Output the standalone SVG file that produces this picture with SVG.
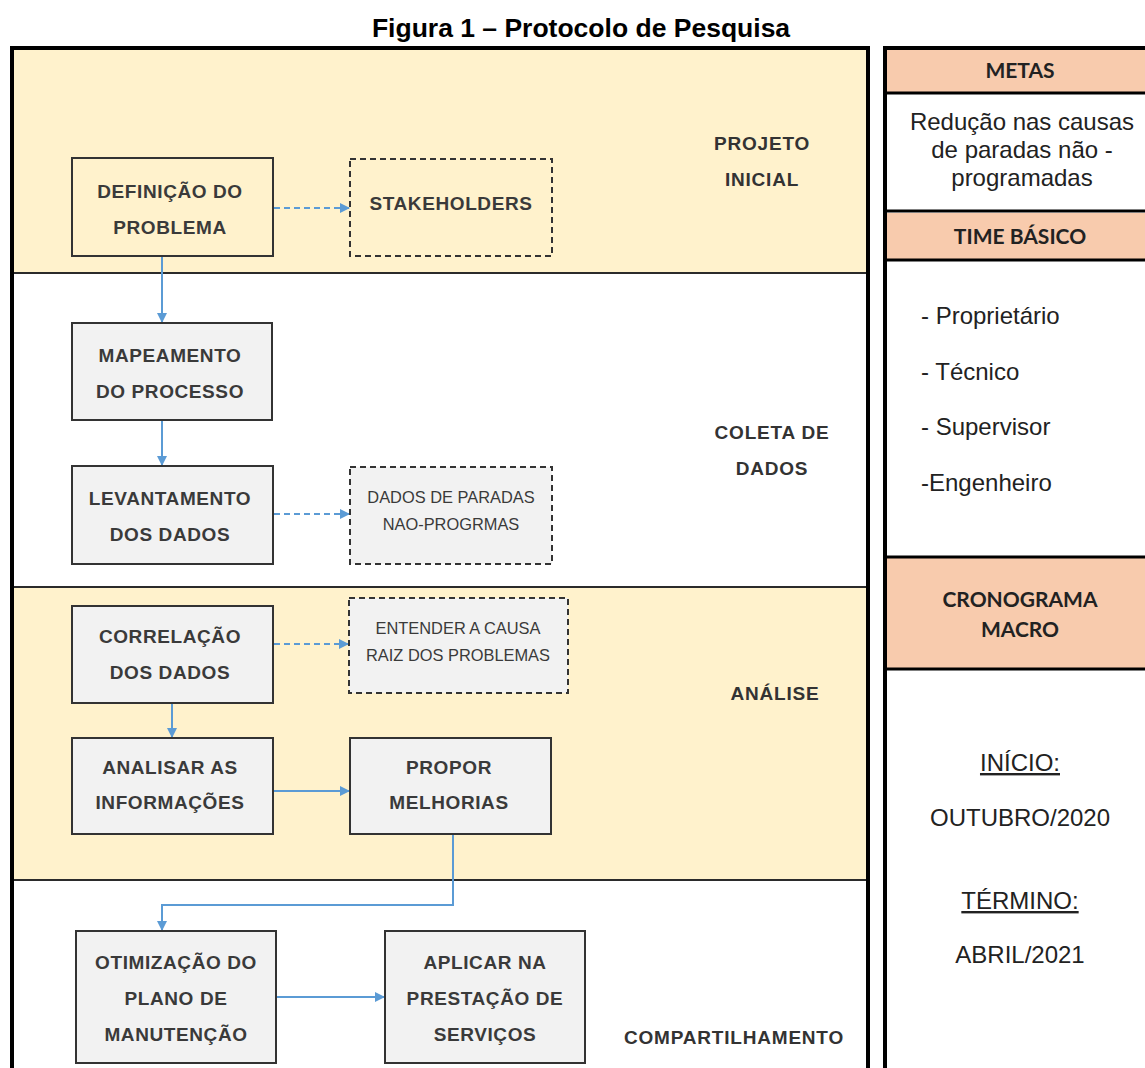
<svg xmlns="http://www.w3.org/2000/svg" width="1145" height="1068" viewBox="0 0 1145 1068">
  <defs>
    <style>
      .title { font-family: "Liberation Sans", Arial, sans-serif; font-weight: bold; font-size: 26.5px; fill: #000; }
      .band-y { fill: #FFF2CC; }
      .band-w { fill: #FFFFFF; }
      .divider { stroke: #2b2b2b; stroke-width: 2; }
      .box { fill: #F2F2F2; stroke: #333; stroke-width: 2; }
      .box-y { fill: #FFF2CC; stroke: #333; stroke-width: 2; }
      .dash { fill: #F2F2F2; stroke: #333; stroke-width: 2; stroke-dasharray: 6 4; }
      .dash-y { fill: #FFF2CC; stroke: #333; stroke-width: 2; stroke-dasharray: 6 4; }
      .bt { font-family: "Liberation Sans", Arial, sans-serif; font-weight: bold; font-size: 19px; letter-spacing: 0.6px; fill: #3a3a3a; text-anchor: middle; }
      .st { font-family: "Liberation Sans", Arial, sans-serif; font-size: 16.4px; fill: #3a3a3a; text-anchor: middle; }
      .phase { font-family: "Liberation Sans", Arial, sans-serif; font-weight: bold; font-size: 19px; letter-spacing: 0.8px; fill: #333; text-anchor: middle; }
      .link { fill: none; stroke: #5B9BD5; stroke-width: 2; }
      .link-d { fill: none; stroke: #5B9BD5; stroke-width: 2; stroke-dasharray: 6 4; }
      .hdr { fill: #F8CBAD; }
      .ht { font-family: Lato, "Open Sans", sans-serif; font-weight: bold; font-size: 21px; fill: #222; text-anchor: middle; }
      .rt { font-family: "Liberation Sans", Arial, sans-serif; font-size: 24px; fill: #222; }
      .rc { text-anchor: middle; }
      .ul { text-decoration: underline; }
    </style>
    <marker id="arrow" viewBox="0 0 10 10" refX="9" refY="5" markerWidth="5" markerHeight="5" orient="auto" markerUnits="strokeWidth">
      <path d="M0,0 L10,5 L0,10 z" fill="#5B9BD5"/>
    </marker>
  </defs>

  <rect x="0" y="0" width="1145" height="1068" fill="#FFFFFF"/>

  <text class="title" x="581" y="37" text-anchor="middle">Figura 1 – Protocolo de Pesquisa</text>

  <!-- Left panel: phase bands -->
  <g id="bands">
    <rect class="band-y" x="12" y="48" width="856" height="225"/>
    <rect class="band-w" x="12" y="273" width="856" height="314"/>
    <rect class="band-y" x="12" y="587" width="856" height="293"/>
    <rect class="band-w" x="12" y="880" width="856" height="200"/>
    <line class="divider" x1="12" y1="273" x2="868" y2="273"/>
    <line class="divider" x1="12" y1="587" x2="868" y2="587"/>
    <line class="divider" x1="12" y1="880" x2="868" y2="880"/>
    <path d="M12,1080 V48 H868 V1080" fill="none" stroke="#000" stroke-width="4"/>
  </g>

  <!-- Phase labels -->
  <g id="phase-projeto"><text class="phase" x="762" y="150">PROJETO</text><text class="phase" x="762" y="186">INICIAL</text></g>
  <g id="phase-coleta"><text class="phase" x="772" y="439">COLETA DE</text><text class="phase" x="772" y="475">DADOS</text></g>
  <g id="phase-analise"><text class="phase" x="775" y="700">ANÁLISE</text></g>
  <g id="phase-compart"><text class="phase" x="734" y="1044">COMPARTILHAMENTO</text></g>

  <!-- Connectors -->
  <g id="connectors">
    <line class="link-d" x1="274" y1="208" x2="349" y2="208" marker-end="url(#arrow)"/>
    <line class="link" x1="162" y1="257" x2="162" y2="322" marker-end="url(#arrow)"/>
    <line class="link" x1="162" y1="421" x2="162" y2="465" marker-end="url(#arrow)"/>
    <line class="link-d" x1="274" y1="514" x2="349" y2="514" marker-end="url(#arrow)"/>
    <line class="link-d" x1="274" y1="644" x2="348" y2="644" marker-end="url(#arrow)"/>
    <line class="link" x1="172" y1="704" x2="172" y2="737" marker-end="url(#arrow)"/>
    <line class="link" x1="274" y1="791" x2="349" y2="791" marker-end="url(#arrow)"/>
    <path class="link" d="M453,835 V905 H162 V930" marker-end="url(#arrow)"/>
    <line class="link" x1="277" y1="997" x2="384" y2="997" marker-end="url(#arrow)"/>
  </g>

  <!-- Nodes -->
  <g id="n-definicao">
    <rect class="box-y" x="72" y="158" width="201" height="98"/>
    <text class="bt" x="170" y="198">DEFINIÇÃO DO</text>
    <text class="bt" x="170" y="234">PROBLEMA</text>
  </g>
  <g id="n-stakeholders">
    <rect class="dash-y" x="350" y="159" width="202" height="97"/>
    <text class="bt" x="451" y="210">STAKEHOLDERS</text>
  </g>
  <g id="n-mapeamento">
    <rect class="box" x="72" y="323" width="200" height="97"/>
    <text class="bt" x="170" y="362">MAPEAMENTO</text>
    <text class="bt" x="170" y="398">DO PROCESSO</text>
  </g>
  <g id="n-levantamento">
    <rect class="box" x="72" y="466" width="201" height="98"/>
    <text class="bt" x="170" y="505">LEVANTAMENTO</text>
    <text class="bt" x="170" y="541">DOS DADOS</text>
  </g>
  <g id="n-dados-paradas">
    <rect class="dash" x="350" y="467" width="202" height="97"/>
    <text class="st" x="451" y="503">DADOS DE PARADAS</text>
    <text class="st" x="451" y="530">NAO-PROGRMAS</text>
  </g>
  <g id="n-correlacao">
    <rect class="box" x="72" y="606" width="201" height="97"/>
    <text class="bt" x="170" y="643">CORRELAÇÃO</text>
    <text class="bt" x="170" y="679">DOS DADOS</text>
  </g>
  <g id="n-entender">
    <rect class="dash" x="349" y="598" width="219" height="95"/>
    <text class="st" x="458" y="634">ENTENDER A CAUSA</text>
    <text class="st" x="458" y="661">RAIZ DOS PROBLEMAS</text>
  </g>
  <g id="n-analisar">
    <rect class="box" x="72" y="738" width="201" height="96"/>
    <text class="bt" x="170" y="774">ANALISAR AS</text>
    <text class="bt" x="170" y="809">INFORMAÇÕES</text>
  </g>
  <g id="n-propor">
    <rect class="box" x="350" y="738" width="201" height="96"/>
    <text class="bt" x="449" y="774">PROPOR</text>
    <text class="bt" x="449" y="809">MELHORIAS</text>
  </g>
  <g id="n-otimizacao">
    <rect class="box" x="76" y="931" width="200" height="132"/>
    <text class="bt" x="176" y="969">OTIMIZAÇÃO DO</text>
    <text class="bt" x="176" y="1005">PLANO DE</text>
    <text class="bt" x="176" y="1041">MANUTENÇÃO</text>
  </g>
  <g id="n-aplicar">
    <rect class="box" x="385" y="931" width="200" height="132"/>
    <text class="bt" x="485" y="969">APLICAR NA</text>
    <text class="bt" x="485" y="1005">PRESTAÇÃO DE</text>
    <text class="bt" x="485" y="1041">SERVIÇOS</text>
  </g>

  <!-- Right panel: goals, team and schedule -->
  <g id="side-panel">
    <rect x="885" y="48" width="270" height="1040" fill="#FFFFFF" stroke="#000" stroke-width="4"/>
    <rect class="hdr" x="887" y="50" width="260" height="43"/>
    <rect class="hdr" x="887" y="213" width="260" height="46"/>
    <rect class="hdr" x="887" y="558" width="260" height="110"/>
    <line x1="885" y1="93" x2="1145" y2="93" stroke="#000" stroke-width="3"/>
    <line x1="885" y1="211" x2="1145" y2="211" stroke="#000" stroke-width="3"/>
    <line x1="885" y1="260" x2="1145" y2="260" stroke="#000" stroke-width="3"/>
    <line x1="885" y1="557" x2="1145" y2="557" stroke="#000" stroke-width="3"/>
    <line x1="885" y1="669" x2="1145" y2="669" stroke="#000" stroke-width="3"/>
  </g>
  <g id="metas">
    <text class="ht" x="1020" y="78">METAS</text>
    <text class="rt rc" x="1022" y="130">Redução nas causas</text>
    <text class="rt rc" x="1022" y="158">de paradas não -</text>
    <text class="rt rc" x="1022" y="186">programadas</text>
  </g>
  <g id="time-basico">
    <text class="ht" x="1020" y="244">TIME BÁSICO</text>
    <text class="rt" x="921" y="324">- Proprietário</text>
    <text class="rt" x="921" y="380">- Técnico</text>
    <text class="rt" x="921" y="435">- Supervisor</text>
    <text class="rt" x="921" y="491">-Engenheiro</text>
  </g>
  <g id="cronograma">
    <text class="ht" x="1020" y="607">CRONOGRAMA</text>
    <text class="ht" x="1020" y="637">MACRO</text>
    <text class="rt rc ul" x="1020" y="771">INÍCIO:</text>
    <text class="rt rc" x="1020" y="826">OUTUBRO/2020</text>
    <text class="rt rc ul" x="1020" y="909">TÉRMINO:</text>
    <text class="rt rc" x="1020" y="963">ABRIL/2021</text>
  </g>
</svg>
